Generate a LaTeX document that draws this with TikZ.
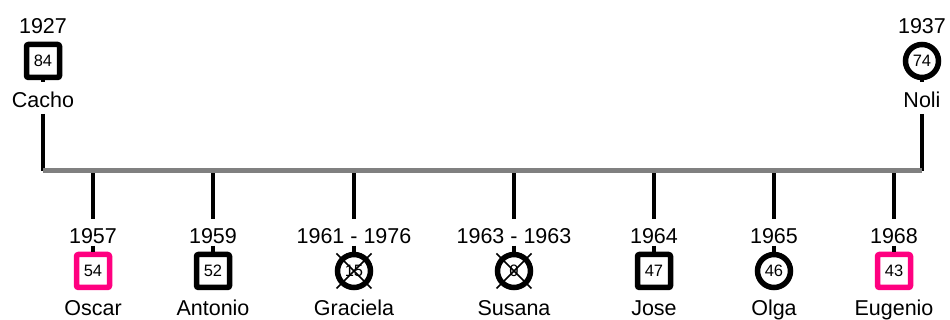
\documentclass[tikz,border=0pt]{standalone}
\usepackage{fontspec}
\setmainfont{Liberation Sans}
\usetikzlibrary{positioning}
\definecolor{hotpink}{RGB}{255, 0, 128}
\definecolor{bargray}{RGB}{128, 128, 128}

\begin{document}
\begin{tikzpicture}[
        x = 0.5pt, y = -0.5pt,
        node distance = 3pt,
        male/.style = {draw, line width=2.75pt, rectangle, rounded corners=1pt, fill=white, minimum size=16.5pt, inner sep=0pt, font=\fontsize{8.25}{9}\selectfont},
        female/.style = {male, circle},
        highlight/.style = {male, draw=hotpink},
        yearlbl/.style = {inner sep=1pt, text height=7.7pt, text depth=0pt, font=\fontsize{10.75}{12}\selectfont},
        namelbl/.style = {yearlbl, text height=7.9pt, text depth=2pt},
        link/.style = {line width=2.25pt},
        bar/.style = {line width=2.5pt, bargray},
        cross/.style = {line width=0.75pt}
    ]
        \useasboundingbox (0,0) rectangle (950,320);

        % Parents
        \node [male] (cacho) at (43,61) {84};
        \node [yearlbl, above=of cacho] (cacho-yr) {1927};
        \node [namelbl, below=4.5pt of cacho] (cacho-nm) {Cacho};
        \node [female] (noli) at (922,61) {74};
        \node [yearlbl, above=of noli] (noli-yr) {1937};
        \node [namelbl, below=4.5pt of noli] (noli-nm) {Noli};

        % Children
        \node [highlight] (oscar) at (93,271) {54};
        \node [male] (antonio) at (213,271) {52};
        \node [female] (graciela) at (354,271) {15};
        \node [female] (susana) at (514,271) {0};
        \node [male] (jose) at (654,271) {47};
        \node [female] (olga) at (774,271) {46};
        \node [highlight] (eugenio) at (894,271) {43};

        \node [yearlbl, above=of oscar] (oscar-yr) {1957};
        \node [yearlbl, above=of antonio] (antonio-yr) {1959};
        \node [yearlbl, above=of graciela] (graciela-yr) {1961 - 1976};
        \node [yearlbl, above=of susana] (susana-yr) {1963 - 1963};
        \node [yearlbl, above=of jose] (jose-yr) {1964};
        \node [yearlbl, above=of olga] (olga-yr) {1965};
        \node [yearlbl, above=of eugenio] (eugenio-yr) {1968};

        \node [namelbl, below=3.75pt of oscar] (oscar-nm) {Oscar};
        \node [namelbl, below=3.75pt of antonio] (antonio-nm) {Antonio};
        \node [namelbl, below=3.75pt of graciela] (graciela-nm) {Graciela};
        \node [namelbl, below=3.75pt of susana] (susana-nm) {Susana};
        \node [namelbl, below=3.75pt of jose] (jose-nm) {Jose};
        \node [namelbl, below=3.75pt of olga] (olga-nm) {Olga};
        \node [namelbl, below=3.75pt of eugenio] (eugenio-nm) {Eugenio};

        % Connectors
        \coordinate (barL) at (43,171);
        \coordinate (barR) at (922,171);
        \draw [link, shorten >=3.5pt] (cacho) -- (cacho-nm);
        \draw [link] (cacho-nm) -- (barL);
        \draw [link, shorten >=3.5pt] (noli) -- (noli-nm);
        \draw [link] (noli-nm) -- (barR);

        \draw [link, shorten >=3.5pt] (oscar |- barL) -- (oscar-yr);
        \draw [link] (oscar-yr) -- (oscar);
        \draw [link, shorten >=3.5pt] (antonio |- barL) -- (antonio-yr);
        \draw [link] (antonio-yr) -- (antonio);
        \draw [link, shorten >=3.5pt] (graciela |- barL) -- (graciela-yr);
        \draw [link] (graciela-yr) -- (graciela);
        \draw [link, shorten >=3.5pt] (susana |- barL) -- (susana-yr);
        \draw [link] (susana-yr) -- (susana);
        \draw [link, shorten >=3.5pt] (jose |- barL) -- (jose-yr);
        \draw [link] (jose-yr) -- (jose);
        \draw [link, shorten >=3.5pt] (olga |- barL) -- (olga-yr);
        \draw [link] (olga-yr) -- (olga);
        \draw [link, shorten >=3.5pt] (eugenio |- barL) -- (eugenio-yr);
        \draw [link] (eugenio-yr) -- (eugenio);

        \draw [bar] (barL) -- (barR);

        % Deceased
        \draw [cross] ([shift={(-17.5,-17.5)}]graciela.center) -- ([shift={(17.5,17.5)}]graciela.center)
                      ([shift={(-17.5,17.5)}]graciela.center) -- ([shift={(17.5,-17.5)}]graciela.center);
        \draw [cross] ([shift={(-17.5,-17.5)}]susana.center) -- ([shift={(17.5,17.5)}]susana.center)
                      ([shift={(-17.5,17.5)}]susana.center) -- ([shift={(17.5,-17.5)}]susana.center);
    \end{tikzpicture}
\end{document}
